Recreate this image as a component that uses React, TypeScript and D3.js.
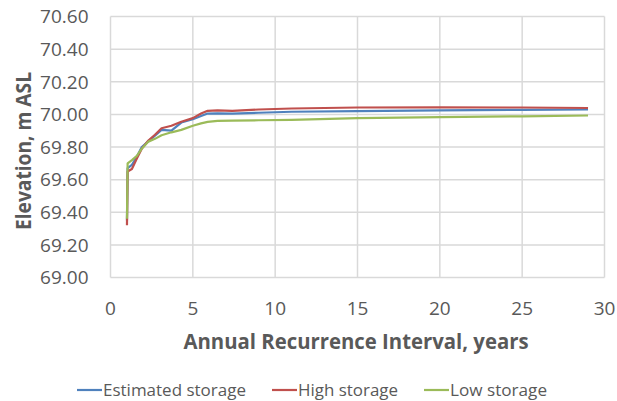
import React from "react";
import * as d3 from "d3";

const ARI = [1.0, 1.04, 1.3, 1.6, 1.9, 2.3, 2.7, 3.1, 3.7, 4.3, 5.0, 5.5, 5.9, 6.5, 7.4, 9, 11, 15, 20, 25, 29];
const HIGH = [69.32, 69.65, 69.665, 69.73, 69.79, 69.84, 69.875, 69.915, 69.93, 69.955, 69.977, 70.005, 70.022, 70.025, 70.021, 70.03, 70.036, 70.042, 70.043, 70.042, 70.039];
const ESTIMATED = [69.35, 69.67, 69.69, 69.74, 69.8, 69.835, 69.87, 69.905, 69.9, 69.95, 69.97, 69.99, 70.005, 70.006, 70.005, 70.01, 70.016, 70.02, 70.025, 70.028, 70.03];
const LOW = [69.36, 69.7, 69.72, 69.745, 69.79, 69.833, 69.85, 69.872, 69.89, 69.905, 69.93, 69.945, 69.954, 69.96, 69.962, 69.964, 69.966, 69.977, 69.983, 69.988, 69.993];

const X_TICKS = [0, 5, 10, 15, 20, 25, 30];
const Y_TICKS = [69.0, 69.2, 69.4, 69.6, 69.8, 70.0, 70.2, 70.4, 70.6];

const SERIES = [
  { name: "Estimated storage", values: ESTIMATED, color: "#4F81BD" },
  { name: "High storage", values: HIGH, color: "#C0504D" },
  { name: "Low storage", values: LOW, color: "#9BBB59" },
];

const FONT = "'Open Sans', sans-serif";
const TEXT = "#595959";

export default function App() {
  const W = 617, H = 401;
  const x = d3.scaleLinear().domain([0, 30]).range([110.5, 604.5]);
  const y = d3.scaleLinear().domain([69.0, 70.6]).range([277.5, 16.5]);
  const line = d3
    .line<number>()
    .x((_, i) => x(ARI[i]))
    .y((v) => y(v));

  const legendItems = [
    { lx: 77, tx: 103, tl: 143 },
    { lx: 272, tx: 298, tl: 100 },
    { lx: 424, tx: 450, tl: 97 },
  ];

  return (
    <svg width={W} height={H} style={{ position: "absolute", left: 0, top: 0, background: "#fff" }}>
      <rect x={0} y={0} width={W} height={H} fill="#fff" />
      {Y_TICKS.map((t) => (
        <line key={"gy" + t} x1={x(0)} x2={x(30)} y1={y(t)} y2={y(t)} stroke="#d9d9d9" strokeWidth={1.5} />
      ))}
      {X_TICKS.map((t) => (
        <line key={"gx" + t} x1={x(t)} x2={x(t)} y1={y(69.0)} y2={y(70.6)} stroke="#d9d9d9" strokeWidth={1.5} />
      ))}
      {SERIES.map((s) => (
        <path key={s.name} d={line(s.values) || ""} fill="none" stroke={s.color} strokeWidth={2.2} strokeLinejoin="round" />
      ))}
      {Y_TICKS.map((t) => (
        <text key={"ty" + t} x={88.5} y={y(t) + 6.8} textAnchor="end" fontFamily={FONT} fontSize={19} fill={TEXT}>
          {t.toFixed(2)}
        </text>
      ))}
      {X_TICKS.map((t) => (
        <text key={"tx" + t} x={x(t)} y={314.5} textAnchor="middle" fontFamily={FONT} fontSize={19} fill={TEXT}>
          {t}
        </text>
      ))}
      <text x={356} y={349} textAnchor="middle" fontFamily={FONT} fontWeight="bold" fontSize={22} fill={TEXT}
        textLength={345} lengthAdjust="spacingAndGlyphs">
        Annual Recurrence Interval, years
      </text>
      <text transform="translate(31,151) rotate(-90)" textAnchor="middle" fontFamily={FONT} fontWeight="bold" fontSize={22} fill={TEXT}
        textLength={158} lengthAdjust="spacingAndGlyphs">
        Elevation, m ASL
      </text>
      {SERIES.map((s, i) => (
        <g key={"lg" + s.name}>
          <line x1={legendItems[i].lx} x2={legendItems[i].lx + 25} y1={390} y2={390} stroke={s.color} strokeWidth={2.2} />
          <text x={legendItems[i].tx} y={396} fontFamily={FONT} fontSize={17} fill={TEXT}
            textLength={legendItems[i].tl} lengthAdjust="spacingAndGlyphs">
            {s.name}
          </text>
        </g>
      ))}
    </svg>
  );
}
